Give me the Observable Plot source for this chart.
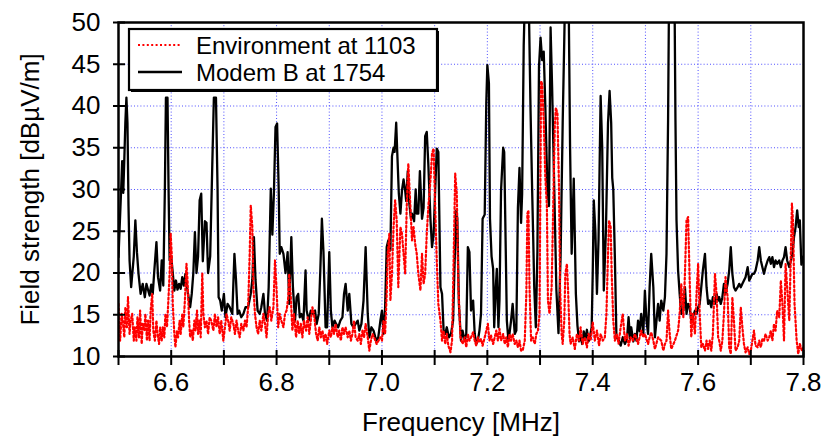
<!DOCTYPE html>
<html><head><meta charset="utf-8">
<script src="https://cdn.jsdelivr.net/npm/d3@7"></script>
<script src="https://cdn.jsdelivr.net/npm/@observablehq/plot@0.6"></script>
<style>body{margin:0;background:#fff}#chart{width:824px;height:440px}</style>
</head><body><div id="chart"></div>
<script>
const seriesNames = ["Environment at 1103", "Modem B at 1754"];
const xLabel = "Frequency [MHz]";
const yLabel = "Field strength [dBµV/m]";
const xTicks = [6.5,6.6,6.7,6.8,6.9,7.0,7.1,7.2,7.3,7.4,7.5,7.6,7.7,7.8];
const yTicks = [10,15,20,25,30,35,40,45,50];

// Environment at 1103: [frequency MHz, field strength dBµV/m]
const envPoints = [
[6.500,16.3],[6.503,11.9],[6.506,15.1],[6.508,14.3],[6.511,12.3],[6.513,15.9],[6.516,13.5],[6.518,17.1],[6.521,12.7],[6.523,14.3],
[6.526,15.1],[6.529,11.9],[6.531,13.5],[6.534,11.9],[6.536,14.7],[6.539,12.3],[6.541,15.5],[6.544,11.5],[6.546,13.9],[6.549,13.1],
[6.551,15.1],[6.554,11.9],[6.556,14.3],[6.559,11.9],[6.561,15.5],[6.564,17.5],[6.566,13.1],[6.569,11.9],[6.572,14.3],[6.574,12.7],
[6.577,11.5],[6.579,13.5],[6.582,11.9],[6.584,13.5],[6.587,12.3],[6.589,15.1],[6.592,13.5],[6.594,15.9],[6.597,19.9],[6.599,24.7],
[6.601,22.3],[6.603,16.3],[6.606,12.7],[6.608,11.1],[6.611,13.1],[6.613,12.3],[6.616,14.3],[6.618,12.7],[6.621,15.1],[6.623,13.5],
[6.626,16.7],[6.629,21.1],[6.631,19.1],[6.634,14.3],[6.636,12.3],[6.639,13.1],[6.641,11.9],[6.644,14.3],[6.646,13.1],[6.649,15.5],
[6.651,12.7],[6.654,14.3],[6.656,12.3],[6.659,20.0],[6.661,15.1],[6.664,13.5],[6.667,14.3],[6.670,12.7],[6.673,14.7],[6.676,14.3],
[6.680,13.1],[6.683,15.1],[6.686,13.5],[6.689,14.7],[6.692,12.7],[6.695,14.3],[6.699,11.9],[6.702,13.5],[6.705,15.1],[6.708,14.3],
[6.711,13.1],[6.714,14.7],[6.718,13.9],[6.721,12.7],[6.724,14.3],[6.727,13.1],[6.730,12.3],[6.733,13.9],[6.737,13.1],[6.740,14.3],
[6.743,13.5],[6.746,15.9],[6.749,22.3],[6.751,28.1],[6.754,25.5],[6.756,18.3],[6.759,15.1],[6.762,13.5],[6.765,12.7],[6.768,14.3],
[6.771,13.1],[6.775,15.1],[6.778,13.9],[6.781,12.3],[6.784,15.1],[6.787,15.9],[6.790,14.3],[6.794,15.9],[6.797,21.5],[6.800,18.0],
[6.803,13.5],[6.806,15.1],[6.809,14.3],[6.813,13.5],[6.816,15.1],[6.819,15.5],[6.822,17.0],[6.824,19.9],[6.827,17.1],[6.830,13.1],
[6.833,15.1],[6.837,12.3],[6.840,14.3],[6.843,12.7],[6.846,13.9],[6.849,12.3],[6.852,14.3],[6.856,13.1],[6.859,14.7],[6.862,12.7],
[6.865,14.3],[6.868,15.9],[6.871,15.1],[6.875,12.7],[6.878,11.9],[6.881,13.5],[6.884,12.3],[6.887,13.1],[6.890,11.9],[6.893,12.7],
[6.896,11.5],[6.900,13.1],[6.903,12.3],[6.906,13.5],[6.909,12.7],[6.912,13.9],[6.916,12.3],[6.919,13.1],[6.922,11.9],[6.925,13.5],
[6.928,12.7],[6.931,13.5],[6.935,12.3],[6.938,13.1],[6.941,11.9],[6.944,12.7],[6.947,14.3],[6.950,12.3],[6.954,11.9],[6.957,12.7],
[6.960,11.5],[6.963,13.1],[6.966,12.3],[6.969,13.9],[6.973,12.3],[6.976,10.7],[6.979,11.9],[6.982,12.7],[6.985,12.3],[6.990,11.5],
[6.997,12.3],[7.000,11.9],[7.003,14.3],[7.006,12.7],[7.009,17.5],[7.011,22.3],[7.014,24.7],[7.016,16.7],[7.019,19.9],[7.022,25.5],
[7.025,28.7],[7.028,26.3],[7.031,18.3],[7.035,25.5],[7.038,24.7],[7.041,22.3],[7.044,19.9],[7.047,27.9],[7.050,33.1],[7.054,27.9],
[7.057,23.9],[7.060,25.5],[7.063,23.5],[7.066,22.3],[7.069,19.9],[7.073,17.9],[7.076,22.3],[7.079,18.7],[7.082,19.9],[7.085,24.7],
[7.088,27.9],[7.092,31.1],[7.095,34.3],[7.098,34.9],[7.101,27.9],[7.104,21.5],[7.107,16.3],[7.111,14.3],[7.114,11.9],[7.117,13.1],
[7.120,11.5],[7.123,12.7],[7.126,11.3],[7.130,10.5],[7.133,11.9],[7.136,21.5],[7.139,31.9],[7.142,29.5],[7.145,18.3],[7.149,12.3],
[7.153,11.5],[7.157,12.3],[7.160,11.1],[7.163,12.7],[7.166,11.9],[7.169,12.3],[7.173,12.9],[7.176,11.9],[7.179,11.3],[7.182,12.3],
[7.185,11.7],[7.188,12.1],[7.191,11.3],[7.195,12.3],[7.198,13.1],[7.201,13.9],[7.204,11.9],[7.207,12.5],[7.211,11.5],[7.214,12.3],
[7.217,13.1],[7.220,11.9],[7.223,13.3],[7.226,11.9],[7.230,12.7],[7.233,11.5],[7.236,12.3],[7.239,11.1],[7.242,12.7],[7.245,11.9],
[7.248,12.7],[7.252,11.5],[7.255,11.9],[7.258,11.1],[7.261,11.9],[7.264,10.7],[7.267,10.7],[7.271,11.9],[7.274,17.5],[7.276,27.1],
[7.278,27.5],[7.280,18.3],[7.283,11.9],[7.286,12.3],[7.290,11.5],[7.293,12.7],[7.296,13.1],[7.299,15.1],[7.302,43.0],[7.304,42.6],
[7.307,38.3],[7.310,31.5],[7.313,28.0],[7.315,16.7],[7.318,15.1],[7.322,18.3],[7.325,27.9],[7.328,37.5],[7.330,39.8],[7.333,39.1],
[7.336,30.3],[7.338,18.3],[7.341,12.7],[7.343,11.5],[7.346,14.3],[7.348,19.9],[7.351,21.1],[7.353,18.3],[7.356,12.7],[7.358,11.5],
[7.362,12.3],[7.366,10.9],[7.370,12.7],[7.374,11.9],[7.377,13.5],[7.381,11.5],[7.385,12.3],[7.389,11.1],[7.392,12.7],[7.396,11.9],
[7.400,14.1],[7.404,11.9],[7.408,13.1],[7.412,11.3],[7.415,12.7],[7.419,11.9],[7.423,12.3],[7.426,15.1],[7.429,22.3],[7.431,26.3],
[7.434,25.5],[7.436,19.9],[7.439,14.3],[7.442,11.9],[7.446,12.7],[7.449,11.5],[7.453,13.5],[7.457,15.1],[7.461,11.9],[7.465,12.7],
[7.468,11.3],[7.472,12.3],[7.476,11.9],[7.480,12.7],[7.486,11.5],[7.492,13.1],[7.496,12.3],[7.499,12.7],[7.505,11.5],[7.508,12.3],
[7.511,12.9],[7.515,11.9],[7.518,10.9],[7.524,12.3],[7.530,11.9],[7.534,10.7],[7.537,11.5],[7.540,11.9],[7.543,15.5],[7.546,12.7],
[7.549,10.9],[7.556,11.9],[7.562,13.1],[7.565,15.1],[7.568,18.7],[7.572,14.7],[7.575,19.9],[7.578,26.3],[7.581,26.7],[7.584,19.1],
[7.587,12.3],[7.590,15.1],[7.594,12.7],[7.597,17.5],[7.600,21.1],[7.603,15.1],[7.606,11.1],[7.609,11.5],[7.613,10.7],[7.616,11.9],
[7.619,10.9],[7.622,11.9],[7.625,10.7],[7.628,12.7],[7.632,19.9],[7.635,17.5],[7.638,12.3],[7.640,11.9],[7.643,10.7],[7.646,11.9],
[7.649,15.1],[7.652,19.5],[7.656,17.1],[7.659,11.1],[7.662,10.3],[7.665,17.1],[7.668,14.3],[7.671,10.7],[7.675,11.1],[7.678,11.9],
[7.681,15.9],[7.684,13.5],[7.687,11.5],[7.690,10.5],[7.694,11.1],[7.697,10.3],[7.700,10.7],[7.703,11.9],[7.706,13.1],[7.709,11.3],
[7.713,11.1],[7.716,11.9],[7.719,11.1],[7.722,12.1],[7.725,11.9],[7.728,12.7],[7.732,11.9],[7.735,12.3],[7.738,13.1],[7.741,11.9],
[7.744,13.9],[7.747,13.1],[7.750,15.5],[7.754,14.7],[7.757,19.1],[7.760,16.3],[7.763,11.9],[7.766,21.1],[7.769,18.3],[7.773,14.3],
[7.776,22.3],[7.778,28.3],[7.780,26.3],[7.783,16.3],[7.787,11.9],[7.790,10.3],[7.793,11.5],[7.797,10.7],[7.800,11.1]
];

// Modem B at 1754: [frequency MHz, field strength dBµV/m]
const modemPoints = [
[6.500,21.9],[6.505,30.0],[6.507,33.4],[6.509,29.6],[6.511,33.5],[6.513,38.0],[6.515,41.0],[6.517,38.0],[6.519,28.0],[6.521,21.5],
[6.524,18.3],[6.529,22.0],[6.532,26.3],[6.535,22.5],[6.538,19.9],[6.542,17.5],[6.546,18.7],[6.550,17.1],[6.553,18.7],[6.556,18.0],
[6.559,17.3],[6.562,18.6],[6.565,17.5],[6.568,20.3],[6.572,23.7],[6.575,19.5],[6.579,17.9],[6.582,21.5],[6.585,18.5],[6.588,30.0],
[6.590,41.0],[6.593,41.0],[6.595,30.0],[6.597,21.5],[6.600,22.0],[6.603,20.0],[6.606,17.9],[6.609,19.1],[6.612,18.0],[6.615,18.7],
[6.618,18.1],[6.621,19.5],[6.624,18.5],[6.627,19.9],[6.630,18.3],[6.633,17.1],[6.636,15.9],[6.639,17.5],[6.642,20.0],[6.645,24.9],
[6.648,20.0],[6.651,22.0],[6.654,28.7],[6.657,29.5],[6.660,21.4],[6.664,26.2],[6.667,26.0],[6.670,20.0],[6.674,22.0],[6.678,33.0],
[6.681,41.0],[6.685,41.0],[6.688,30.0],[6.690,17.1],[6.693,16.7],[6.696,15.5],[6.700,17.5],[6.703,14.7],[6.707,16.3],[6.711,15.9],
[6.716,15.1],[6.720,22.3],[6.723,19.2],[6.726,15.1],[6.729,15.5],[6.733,14.7],[6.737,15.1],[6.741,15.9],[6.746,15.9],[6.751,17.5],
[6.754,19.2],[6.757,24.3],[6.760,19.2],[6.764,15.5],[6.768,15.1],[6.771,15.9],[6.775,17.5],[6.778,15.1],[6.782,14.3],[6.785,18.3],
[6.789,30.1],[6.792,24.6],[6.795,29.7],[6.798,37.5],[6.801,37.9],[6.804,30.0],[6.806,22.3],[6.809,23.1],[6.813,22.3],[6.817,20.0],
[6.821,22.5],[6.824,16.3],[6.828,24.3],[6.831,18.3],[6.835,14.3],[6.838,17.1],[6.841,17.5],[6.844,14.7],[6.847,15.1],[6.851,14.3],
[6.855,20.3],[6.857,15.5],[6.861,14.3],[6.865,15.5],[6.869,15.1],[6.873,15.5],[6.876,13.9],[6.880,15.1],[6.883,20.3],[6.886,26.5],
[6.889,22.5],[6.893,13.5],[6.896,13.5],[6.900,22.5],[6.903,15.5],[6.906,13.5],[6.910,14.3],[6.913,13.9],[6.917,13.5],[6.921,14.3],
[6.925,14.7],[6.928,17.5],[6.931,18.7],[6.935,15.5],[6.938,17.5],[6.942,13.9],[6.946,13.5],[6.950,13.9],[6.954,14.3],[6.957,13.1],
[6.961,13.9],[6.965,16.7],[6.969,23.1],[6.973,15.1],[6.976,12.3],[6.980,13.5],[6.984,13.1],[6.989,11.9],[6.993,12.3],[6.997,14.3],
[7.000,15.5],[7.003,12.7],[7.006,15.9],[7.009,23.1],[7.012,23.9],[7.016,22.7],[7.019,34.0],[7.022,35.0],[7.024,34.5],[7.027,38.0],
[7.029,34.5],[7.032,29.5],[7.035,27.1],[7.038,29.9],[7.041,31.2],[7.044,29.9],[7.046,28.6],[7.049,32.2],[7.052,28.3],[7.055,26.5],
[7.057,27.1],[7.061,26.2],[7.064,30.0],[7.066,27.1],[7.069,27.1],[7.072,32.2],[7.076,26.5],[7.079,27.8],[7.082,36.4],[7.085,36.9],
[7.088,33.0],[7.092,26.5],[7.095,23.1],[7.098,24.6],[7.101,29.9],[7.104,34.9],[7.107,34.5],[7.111,18.3],[7.114,17.5],[7.117,13.1],
[7.120,12.7],[7.123,13.5],[7.127,12.3],[7.131,12.7],[7.135,14.3],[7.138,21.4],[7.141,27.5],[7.143,26.5],[7.146,16.3],[7.150,11.9],
[7.153,13.1],[7.157,11.9],[7.160,12.7],[7.163,23.1],[7.166,22.5],[7.169,15.5],[7.173,16.7],[7.176,12.7],[7.179,11.5],[7.182,11.9],
[7.185,13.1],[7.188,15.1],[7.191,26.5],[7.195,27.0],[7.198,40.4],[7.200,44.9],[7.203,42.7],[7.205,26.5],[7.208,22.0],[7.211,20.5],
[7.213,13.5],[7.216,18.3],[7.218,20.5],[7.221,13.5],[7.223,16.7],[7.226,29.9],[7.230,35.0],[7.232,34.5],[7.235,22.5],[7.237,14.3],
[7.240,11.9],[7.242,12.7],[7.245,14.3],[7.248,16.3],[7.252,12.7],[7.255,13.1],[7.258,27.8],[7.261,32.6],[7.264,26.0],[7.266,29.5],
[7.269,47.2],[7.272,55.0],[7.278,55.0],[7.282,39.4],[7.285,30.0],[7.287,24.3],[7.289,18.3],[7.292,13.5],[7.295,22.5],[7.298,44.7],
[7.301,48.2],[7.304,45.5],[7.307,46.5],[7.310,40.0],[7.314,30.0],[7.317,28.0],[7.320,49.4],[7.323,42.0],[7.327,30.0],[7.331,18.0],
[7.335,12.8],[7.339,22.0],[7.343,38.0],[7.346,48.0],[7.348,55.0],[7.354,55.0],[7.357,35.0],[7.360,22.3],[7.364,31.3],[7.368,17.5],
[7.371,13.7],[7.374,11.8],[7.377,12.5],[7.380,11.5],[7.383,13.0],[7.386,12.0],[7.389,13.2],[7.392,11.8],[7.395,12.5],[7.398,13.5],
[7.400,20.0],[7.402,28.7],[7.405,25.0],[7.408,17.5],[7.411,24.0],[7.415,41.2],[7.418,35.0],[7.421,17.9],[7.425,25.0],[7.429,38.0],
[7.432,41.8],[7.435,38.0],[7.437,31.4],[7.439,30.0],[7.442,21.9],[7.445,12.3],[7.449,12.0],[7.453,11.3],[7.457,12.3],[7.461,11.5],
[7.465,12.1],[7.468,14.7],[7.471,12.1],[7.473,13.5],[7.477,11.8],[7.480,12.7],[7.483,11.9],[7.486,14.3],[7.489,13.0],[7.492,15.1],
[7.496,12.7],[7.499,17.9],[7.502,14.3],[7.505,12.7],[7.508,18.3],[7.511,22.3],[7.515,18.3],[7.518,12.3],[7.521,14.3],[7.524,16.3],
[7.527,14.3],[7.530,16.7],[7.534,15.5],[7.537,17.1],[7.540,22.3],[7.543,38.3],[7.545,55.0],[7.555,55.0],[7.557,38.3],[7.559,26.3],
[7.562,20.3],[7.565,17.5],[7.568,15.1],[7.572,15.5],[7.575,18.3],[7.578,15.1],[7.581,16.3],[7.584,15.9],[7.587,14.3],[7.590,14.7],
[7.594,15.5],[7.597,15.1],[7.600,15.9],[7.603,16.3],[7.606,18.3],[7.609,20.3],[7.613,22.3],[7.616,18.3],[7.619,16.3],[7.622,16.7],
[7.625,15.9],[7.628,17.1],[7.632,16.3],[7.635,17.5],[7.638,16.7],[7.640,17.1],[7.643,16.3],[7.646,17.1],[7.649,18.7],[7.652,17.5],
[7.656,18.7],[7.659,20.3],[7.662,23.1],[7.665,19.9],[7.668,18.3],[7.671,17.9],[7.675,18.3],[7.678,18.7],[7.681,18.3],[7.684,18.7],
[7.687,19.1],[7.690,19.5],[7.694,20.7],[7.697,19.1],[7.700,19.5],[7.703,19.9],[7.706,19.9],[7.709,20.3],[7.713,21.5],[7.716,23.1],
[7.719,21.5],[7.722,20.7],[7.725,19.9],[7.728,20.7],[7.732,21.5],[7.735,21.9],[7.738,21.1],[7.741,21.9],[7.744,20.7],[7.747,21.5],
[7.750,21.1],[7.754,21.5],[7.757,20.7],[7.760,21.5],[7.763,21.9],[7.766,23.1],[7.769,21.5],[7.773,20.7],[7.776,21.5],[7.779,22.3],
[7.782,24.3],[7.785,25.5],[7.788,27.5],[7.791,25.5],[7.793,26.3],[7.796,21.0],[7.800,22.0]
];

const env = envPoints.map(([f, v]) => ({f, v}));
const modem = modemPoints.map(([f, v]) => ({f, v}));

const FONT = "'Liberation Sans', Arial, Helvetica, sans-serif";
const FS = 26;
const LFS = 24;
const gridStyle = {stroke: "#2f2fff", strokeOpacity: 0.85, strokeWidth: 1, strokeDasharray: "1,2.2"};
const envStyle = {stroke: "#ff0000", strokeWidth: 2.2, strokeDasharray: "2,2.4"};
const modemStyle = {stroke: "#000000", strokeWidth: 2.3};

const chart = Plot.plot({
  width: 824, height: 440,
  marginLeft: 118, marginRight: 21, marginTop: 22, marginBottom: 84,
  style: {fontFamily: FONT, fontSize: FS + "px", background: "#fff", color: "#000", overflow: "visible"},
  x: {domain: [6.5, 7.8]},
  y: {domain: [10, 50]},
  marks: [
    Plot.ruleX(xTicks.slice(1, -1), gridStyle),
    Plot.ruleY(yTicks.slice(1, -1), gridStyle),
    Plot.line(modem, {x: "f", y: "v", ...modemStyle, strokeLinejoin: "round", clip: true}),
    Plot.line(env, {x: "f", y: "v", ...envStyle, clip: true}),
    Plot.frame({stroke: "#000", strokeWidth: 2.5}),
    Plot.axisX({ticks: xTicks, tickSize: 15, dy: -6, tickPadding: 7, strokeWidth: 2, fontSize: FS,
      tickFormat: d => (Math.round(d * 10) % 2 === 0 ? d.toFixed(1) : ""), label: null}),
    Plot.axisY({ticks: yTicks, tickSize: 12, dx: 7, tickPadding: 13, strokeWidth: 2, fontSize: FS,
      tickFormat: d => String(d), label: null}),
    Plot.text([xLabel], {frameAnchor: "bottom", dy: 66, text: d => d, fontSize: FS, textAnchor: "middle", lineAnchor: "middle"}),
    Plot.text([yLabel], {frameAnchor: "left", dx: -88, rotate: -90, text: d => d, fontSize: FS, textAnchor: "middle", lineAnchor: "middle"})
  ]
});

// Legend box inside the plot, top-left
const svg = d3.select(chart);
const lg = svg.append("g").attr("font-family", FONT).attr("font-size", LFS).attr("text-anchor", "start");
lg.append("rect").attr("x", 131).attr("y", 31).attr("width", 308).attr("height", 61).attr("fill", "#000");
lg.append("rect").attr("x", 129).attr("y", 29).attr("width", 308).attr("height", 61)
  .attr("fill", "#fff").attr("stroke", "#000").attr("stroke-width", 2.2);
const legendStyles = [envStyle, modemStyle];
seriesNames.forEach((name, i) => {
  const yy = 45 + i * 27;
  const st = legendStyles[i];
  lg.append("line").attr("x1", 138).attr("x2", 182).attr("y1", yy).attr("y2", yy)
    .attr("stroke", st.stroke).attr("stroke-width", st.strokeWidth)
    .attr("stroke-dasharray", st.strokeDasharray || null);
  lg.append("text").attr("x", 196).attr("y", yy).attr("dy", "0.36em")
    .attr("text-anchor", "start").attr("fill", "#000").text(name);
});

document.getElementById("chart").appendChild(chart);
</script>
</body></html>
